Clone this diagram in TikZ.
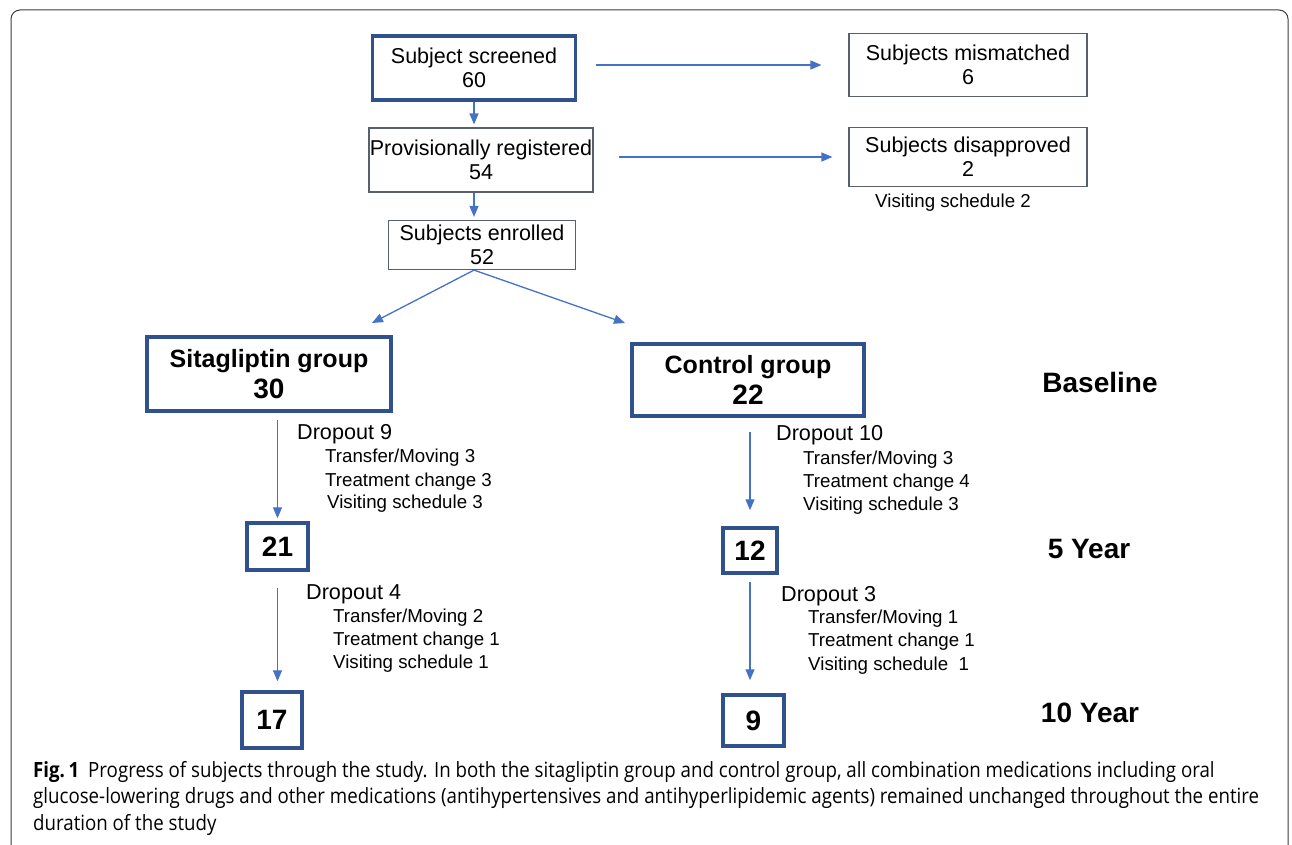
\documentclass[tikz,border=0pt]{standalone}
\usepackage{fontspec}
\setmainfont{Liberation Sans}
\newfontfamily\capfont[FakeStretch=0.89]{Open Sans}
\usetikzlibrary{arrows.meta}
\definecolor{boxnavy}{RGB}{47,82,143}
\definecolor{boxgray}{RGB}{88,96,112}
\definecolor{flowblue}{RGB}{68,114,196}
\definecolor{framegray}{RGB}{60,60,60}
\tikzset{
  thinbox/.style={draw=boxgray, line width=1.2pt, inner sep=0pt, align=center, font=\fontsize{21.5}{24}\selectfont},
  thickbox/.style={draw=boxnavy, line width=3.5pt, inner sep=0pt, align=center},
  groupbox/.style={thickbox, font=\bfseries\fontsize{25}{31}\selectfont},
  countbox/.style={thickbox, font=\bfseries\fontsize{28}{30}\selectfont},
  flow/.style={draw=flowblue, line width=1.3pt, -{Triangle[length=11pt,width=9pt]}},
  drophead/.style={anchor=west, inner sep=0pt, text height=0.72em, text depth=0.1em, font=\fontsize{21.6}{24}\selectfont},
  dropitem/.style={anchor=west, inner sep=0pt, text height=0.72em, text depth=0.1em, font=\fontsize{18.7}{22}\selectfont},
  period/.style={inner sep=0pt, font=\bfseries\fontsize{28}{30}\selectfont}
}

\begin{document}
\begin{tikzpicture}[x=1pt,y=-1pt]
\useasboundingbox (0,0) rectangle (1292,845);
% frame round the figure
\draw[framegray, line width=1pt, rounded corners=9pt] (11,845) -- (11,10) -- (1288,10) -- (1288,845);

% screening
\node[thickbox, font=\fontsize{21.5}{24}\selectfont, minimum width=203pt, minimum height=64pt] (scr) at (474,68) {Subject screened\\60};
\node[thinbox, minimum width=224pt, minimum height=64pt] (reg) at (481,160) {Provisionally registered\\54};
\node[thinbox, minimum width=187pt, minimum height=49pt] (enr) at (482,245) {Subjects enrolled\\52};
\node[thinbox, minimum width=238pt, minimum height=63pt] (mis) at (968,65) {Subjects mismatched\\6};
\node[thinbox, minimum width=238pt, minimum height=59pt] (dis) at (968,157) {Subjects disapproved\\2};
\node[dropitem, anchor=center] (disv) at (953,204) {Visiting schedule 2};

\draw[flow, shorten <=19pt, shorten >=27pt] (scr.east |- mis.west) -- (mis.west);
\draw[flow, shorten <=25pt, shorten >=16pt] (reg.east |- dis.west) -- (dis.west);
\draw[flow, shorten >=3pt] (scr.south) -- (scr.south |- reg.north);
\draw[flow, shorten >=3pt] (reg.south -| scr.south) -- (enr.north -| scr.south);

% groups
\node[groupbox, minimum width=244pt, minimum height=74pt] (sita) at (269,374) {Sitagliptin group\\{\fontsize{28}{31}\selectfont 30}};
\node[groupbox, minimum width=232pt, minimum height=72pt] (ctrl) at (748,380) {Control group\\{\fontsize{28}{31}\selectfont 22}};
\coordinate (sitaIn) at (372,323);
\coordinate (ctrlIn) at (625,323);
\draw[flow] (enr.south -| scr.south) -- (sitaIn);
\draw[flow] (enr.south -| scr.south) -- (ctrlIn);

% follow-up counts
\node[countbox, minimum width=61pt, minimum height=47pt] (sita5) at (277.5,546.5) {21};
\node[countbox, minimum width=54pt, minimum height=45pt] (ctrl5) at (750,550.5) {12};
\node[countbox, minimum width=60pt, minimum height=56pt] (sita10) at (272,720) {17};
\node[countbox, minimum width=61pt, minimum height=51pt] (ctrl10) at (753.5,720.5) {9};

\draw[flow, shorten <=7pt, shorten >=3pt] (sita.south -| sita5.north) -- (sita5.north);
\draw[flow, shorten <=14pt, shorten >=16pt] (ctrl.south -| ctrl5.north) -- (ctrl5.north);
\draw[flow, shorten <=16pt, shorten >=9pt] (sita5.south) -- (sita5.south |- sita10.north);
\draw[flow, shorten <=7pt, shorten >=13pt] (ctrl5.south) -- (ctrl5.south |- ctrl10.north);

% dropouts
\node[drophead] (d9) at (297,436) {Dropout 9};
\node[dropitem] (d9a) at (325,459) {Transfer/Moving 3};
\node[dropitem] (d9b) at (325,483) {Treatment change 3};
\node[dropitem] (d9c) at (327,505) {Visiting schedule 3};

\node[drophead] (d10) at (776,437) {Dropout 10};
\node[dropitem] (d10a) at (803,461) {Transfer/Moving 3};
\node[dropitem] (d10b) at (803,484) {Treatment change 4};
\node[dropitem] (d10c) at (803,507) {Visiting schedule 3};

\node[drophead] (d4) at (306,596) {Dropout 4};
\node[dropitem] (d4a) at (333,619) {Transfer/Moving 2};
\node[dropitem] (d4b) at (333,642) {Treatment change 1};
\node[dropitem] (d4c) at (333,665) {Visiting schedule 1};

\node[drophead] (d3) at (781,598) {Dropout 3};
\node[dropitem] (d3a) at (808,620) {Transfer/Moving 1};
\node[dropitem] (d3b) at (808,643) {Treatment change 1};
\node[dropitem] (d3c) at (808,667) {Visiting schedule\ \ 1};

% time points
\node[period] (base) at (1100,382) {Baseline};
\node[period] (yr5) at (1089,549) {5 Year};
\node[period] (yr10) at (1090,713) {10 Year};

% caption
\node[anchor=north west, align=left, inner sep=0pt, font=\capfont\fontsize{21}{26.5}\selectfont] (cap) at (33,761)
  {\textbf{Fig.\,1}\hspace{9pt}Progress of subjects through the study. In both the sitagliptin group and control group, all combination medications including oral\\
   glucose-lowering drugs and other medications (antihypertensives and antihyperlipidemic agents) remained unchanged throughout the entire\\
   duration of the study};
\end{tikzpicture}
\end{document}
